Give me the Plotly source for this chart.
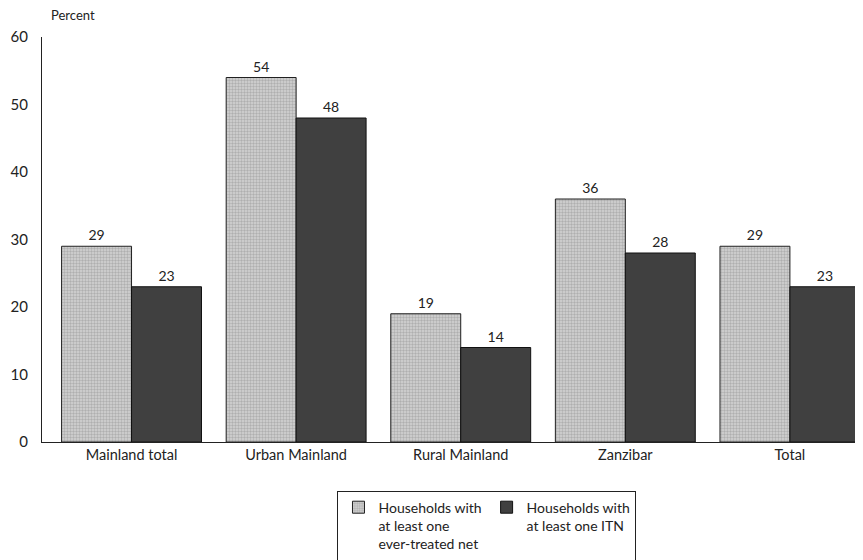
import plotly.graph_objects as go

categories = ["Mainland total", "Urban Mainland", "Rural Mainland", "Zanzibar", "Total"]
ever_treated = [29, 54, 19, 36, 29]
itn = [23, 48, 14, 28, 23]
y_ticks = [0, 10, 20, 30, 40, 50, 60]

xs = list(range(len(categories)))
font = "Lato"

fig = go.Figure()
fig.add_trace(go.Bar(
    x=xs, y=ever_treated,
    name="Households with<br>at least one<br>ever-treated net",
    marker=dict(color="#c8c8c8", line=dict(color="#202020", width=1),
                pattern=dict(shape=".", fgcolor="#8a8a8a", bgcolor="#d4d4d4", size=3, solidity=0.5)),
    text=ever_treated, textposition="outside", cliponaxis=False,
    textfont=dict(size=14, color="#222"),
))
fig.add_trace(go.Bar(
    x=xs, y=itn,
    name="Households with<br>at least one ITN",
    marker=dict(color="#404040", line=dict(color="#111", width=1)),
    text=itn, textposition="outside", cliponaxis=False,
    textfont=dict(size=14, color="#222"),
))

# page has an 8px body margin, so the figure is drawn 8px smaller and shifted
fig.update_layout(
    width=855, height=552,
    margin=dict(l=34, r=0, t=29, b=118, autoexpand=False),
    plot_bgcolor="white", paper_bgcolor="white",
    barmode="group", bargap=0.15, bargroupgap=0,
    font=dict(family=font, size=14, color="#222"),
    showlegend=True,
    legend=dict(orientation="h", x=0.542, xanchor="center", y=-0.12, yanchor="top",
                bordercolor="#222", borderwidth=1, font=dict(size=14), valign="top",
                itemwidth=30, tracegroupgap=0),
    annotations=[dict(text="Percent", x=0, y=1, xref="paper", yref="paper",
                      xanchor="left", yanchor="bottom", xshift=7, yshift=12, showarrow=False,
                      font=dict(size=13))],
)
fig.update_xaxes(range=[-0.544, 4.444], tickvals=xs, ticktext=categories,
                 showline=True, linecolor="#222", linewidth=1, ticks="",
                 showgrid=False, zeroline=False, tickfont=dict(size=14.5))
fig.update_yaxes(range=[0, 60], tickvals=y_ticks, showline=True, linecolor="#222",
                 linewidth=1, ticks="", showgrid=False, zeroline=False,
                 tickfont=dict(size=15), ticklabelstandoff=10)

fig.write_html("out.html")
